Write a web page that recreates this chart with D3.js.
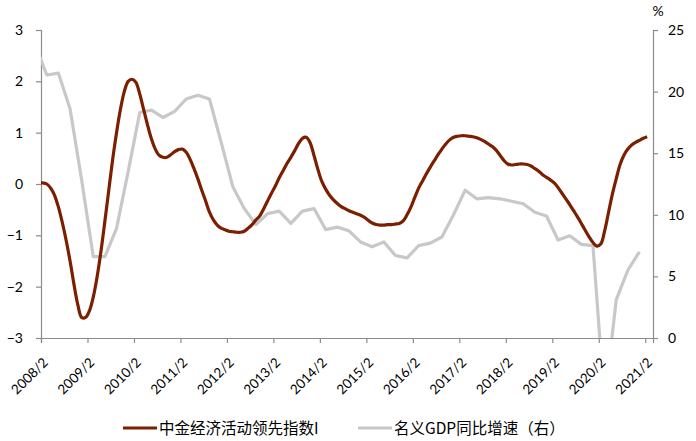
<!DOCTYPE html>
<html>
<head>
<meta charset="utf-8">
<script src="https://cdn.jsdelivr.net/npm/d3@7"></script>
<style>
  html, body { margin: 0; padding: 0; background: #fff; }
  svg { display: block; }
  text { font-family: Lato, "Noto Sans", sans-serif; fill: #000; }
  .cjk { font-family: "Noto Sans CJK SC", sans-serif; }
</style>
</head>
<body>
<svg id="chart" width="696" height="441"></svg>
<script>
// ---------- DATA ----------
// Monthly leading index, first month 2008/1
const leadStart = "2008/1";
const leadingIndex = [
  0.03, 0.02, 0.00, -0.08, -0.22, -0.45, -0.75, -1.10, -1.50, -1.95, -2.35, -2.60,
  -2.60, -2.47, -2.20, -1.80, -1.30, -0.72, -0.12, 0.48, 1.00, 1.45, 1.80, 2.00,
  2.04, 1.98, 1.75, 1.45, 1.15, 0.88, 0.68, 0.56, 0.52, 0.52, 0.57, 0.63,
  0.67, 0.68, 0.62, 0.48, 0.30, 0.10, -0.12, -0.33, -0.55, -0.70, -0.80, -0.86,
  -0.89, -0.92, -0.93, -0.94, -0.94, -0.92, -0.86, -0.79, -0.70, -0.62, -0.48, -0.33,
  -0.18, -0.04, 0.12, 0.26, 0.40, 0.52, 0.65, 0.79, 0.89, 0.91, 0.80, 0.55,
  0.28, 0.05, -0.10, -0.22, -0.31, -0.38, -0.44, -0.48, -0.52, -0.55, -0.58, -0.61,
  -0.65, -0.71, -0.76, -0.79, -0.80, -0.80, -0.79, -0.79, -0.78, -0.77, -0.72, -0.60,
  -0.45, -0.26, -0.08, 0.06, 0.20, 0.33, 0.45, 0.57, 0.68, 0.78, 0.86, 0.91,
  0.93, 0.94, 0.94, 0.93, 0.92, 0.90, 0.87, 0.83, 0.78, 0.73, 0.66, 0.56,
  0.46, 0.39, 0.37, 0.38, 0.39, 0.39, 0.38, 0.35, 0.30, 0.25, 0.18, 0.13,
  0.08, 0.02, -0.07, -0.18, -0.29, -0.40, -0.52, -0.64, -0.77, -0.90, -1.03, -1.14,
  -1.21, -1.17, -0.92, -0.56, -0.20, 0.10, 0.38, 0.56, 0.68, 0.76, 0.81, 0.85,
  0.89, 0.92
];
// Quarterly nominal GDP yoy (%), first quarter-end 2007/12
const gdpStart = "2007/12";
const nominalGDP = [
  23.8, 21.35, 21.5, 18.6, 12.8,
  6.6, 6.6, 8.9, 13.5,
  18.3, 18.5, 17.9, 18.4,
  19.4, 19.7, 19.4, 15.9,
  12.3, 10.5, 9.2, 10.1,
  10.3, 9.3, 10.3, 10.5,
  8.8, 9.0, 8.7, 7.8,
  7.4, 7.8, 6.7, 6.5,
  7.5, 7.7, 8.2, 10.0,
  12.0, 11.3, 11.4, 11.3,
  11.1, 10.9, 10.2, 9.9,
  7.95, 8.3, 7.6, 7.5,
  -5.3, 3.1, 5.5, 7.0
];
const xTickLabels = ["2008/2","2009/2","2010/2","2011/2","2012/2","2013/2","2014/2",
  "2015/2","2016/2","2017/2","2018/2","2019/2","2020/2","2021/2"];
const leftTicks = [-3, -2, -1, 0, 1, 2, 3];
const rightTicks = [0, 5, 10, 15, 20, 25];
const seriesNames = ["中金经济活动领先指数I", "名义GDP同比增速（右）"];

// ---------- HELPERS ----------
function monthIndex(label) { // months since 2008/2
  const [y, m] = label.split("/").map(Number);
  return (y - 2008) * 12 + (m - 2);
}
const lead0 = monthIndex(leadStart);
const gdp0 = monthIndex(gdpStart);
const leadData = leadingIndex.map((v, i) => ({ m: lead0 + i, v }));
const gdpData = nominalGDP.map((v, i) => ({ m: gdp0 + 3 * i, v }));

// ---------- LAYOUT ----------
const L = 41, R = 653, T = 30, B = 338;
const svg = d3.select("#chart");

const x = d3.scaleLinear().domain([0, 158]).range([L, R]);
const yL = d3.scaleLinear().domain([-3, 3]).range([B, T]);
const yR = d3.scaleLinear().domain([0, 25]).range([B, T]);

svg.append("defs").append("clipPath").attr("id", "plotclip")
  .append("rect").attr("x", L).attr("y", T - 10).attr("width", R - L).attr("height", B - T + 10);

const axisColor = "#8c8c8c";

// Left axis
const gL = svg.append("g").attr("transform", `translate(${L},0)`)
  .call(d3.axisLeft(yL).tickValues(leftTicks).tickSize(5).tickPadding(13).tickFormat(d3.format("d")));
// Right axis
const gR = svg.append("g").attr("transform", `translate(${R},0)`)
  .call(d3.axisRight(yR).tickValues(rightTicks).tickSize(5).tickPadding(10));
// Bottom axis
const gB = svg.append("g").attr("transform", `translate(0,${B})`)
  .call(d3.axisBottom(x).tickValues(xTickLabels.map(monthIndex)).tickSize(5)
    .tickFormat((d, i) => xTickLabels[i]));

[gL, gR, gB].forEach(g => {
  g.select(".domain").attr("stroke", axisColor).attr("stroke-width", 1.2);
  g.selectAll(".tick line").attr("stroke", axisColor).attr("stroke-width", 1.2);
  g.selectAll("text").attr("font-family", "Lato, 'Noto Sans', sans-serif").attr("fill", "#000");
});
gL.selectAll("text").attr("font-size", 14).attr("text-anchor", "end");
gR.selectAll("text").attr("font-size", 14);
gB.selectAll("text").attr("font-size", 13.5)
  .attr("text-anchor", "end")
  .attr("y", 0)
  .attr("dy", "0.35em")
  .attr("transform", "translate(4,22) rotate(-45)");

// % unit label
svg.append("text").attr("x", R + 5).attr("y", 16).attr("text-anchor", "middle")
  .attr("font-size", 14).text("%");

// Lines
const plot = svg.append("g").attr("clip-path", "url(#plotclip)");
plot.append("path").datum(gdpData)
  .attr("fill", "none").attr("stroke", "#c8c8c8").attr("stroke-width", 3.2)
  .attr("stroke-linejoin", "round")
  .attr("d", d3.line().x(d => x(d.m + 0.5)).y(d => yR(d.v)));
plot.append("path").datum(leadData)
  .attr("fill", "none").attr("stroke", "#7b1f00").attr("stroke-width", 3.2)
  .attr("stroke-linejoin", "round")
  .attr("d", d3.line().curve(d3.curveCatmullRom.alpha(0.5)).x(d => x(d.m + 0.5)).y(d => yL(d.v)));

// Legend
const legend = svg.append("g");
const legItems = [
  { name: seriesNames[0], color: "#7b1f00", x0: 123 },
  { name: seriesNames[1], color: "#c8c8c8", x0: 358 }
];
legItems.forEach(it => {
  legend.append("line").attr("x1", it.x0).attr("x2", it.x0 + 34)
    .attr("y1", 428).attr("y2", 428).attr("stroke", it.color).attr("stroke-width", 3.2);
  legend.append("text").attr("class", "cjk").attr("x", it.x0 + 36).attr("y", 428)
    .attr("dy", "0.36em").attr("font-size", 15.5).text(it.name);
});
</script>
</body>
</html>
